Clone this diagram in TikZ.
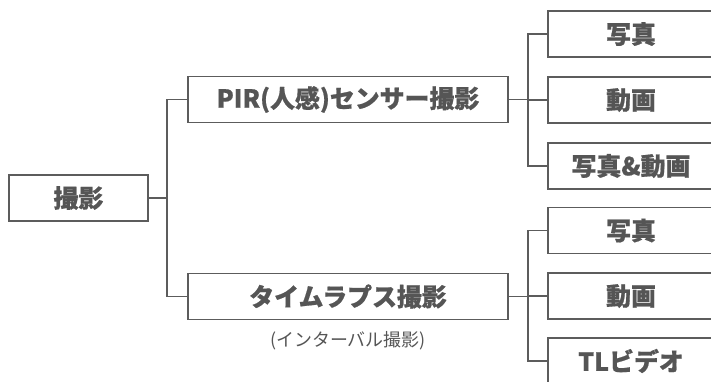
\documentclass[tikz,border=0pt]{standalone}
\usepackage{fontspec}
\setmainfont{Noto Sans CJK JP}[BoldFeatures={FakeBold=0.7}]
\definecolor{ln}{HTML}{5C5C5C}
\definecolor{tx}{HTML}{555555}
\tikzset{
  box/.style={draw=ln, line width=1.8bp, fill=white, text=tx, font=\fontsize{25}{29}\selectfont\bfseries, inner sep=0pt, minimum height=46bp},
  conn/.style={draw=ln, line width=1.8bp},
  sub/.style={text=tx, font=\fontsize{18}{21}\selectfont, inner sep=0pt}
}
\begin{document}
\begin{tikzpicture}[x=1bp,y=-1bp]
\useasboundingbox (0,0) rectangle (711,381);
\clip (0,0) rectangle (711,381);
\node[box, minimum width=139bp] (root) at (78.5,198) {撮影};
\node[box, minimum width=320bp] (pir) at (348,99.5) {PIR(人感)センサー撮影};
\node[box, minimum width=320bp] (tl) at (348,296.5) {タイムラプス撮影};
\node[sub] (tlsub) at (348,341) {(インターバル撮影)};
\node[box, minimum width=166bp] (p1) at (631,34) {写真};
\node[box, minimum width=166bp] (p2) at (631,100) {動画};
\node[box, minimum width=166bp] (p3) at (631,166) {写真\&動画};
\node[box, minimum width=166bp] (t1) at (631,230.5) {写真};
\node[box, minimum width=166bp] (t2) at (631,296) {動画};
\node[box, minimum width=166bp] (t3) at (631,361) {TLビデオ};
\coordinate (j0) at (167,0);
\coordinate (j1) at (528,0);
\draw[conn] (root.east) -- (root.east -| j0);
\draw[conn] (pir.west) -| (j0 |- root.east) |- (tl.west);
\draw[conn] (pir.east) -- (pir.east -| j1);
\draw[conn] (p1.west) -| (j1 |- p2.west) |- (p3.west);
\draw[conn] (j1 |- p2.west) -- (p2.west);
\draw[conn] (tl.east) -- (tl.east -| j1);
\draw[conn] (t1.west) -| (j1 |- t2.west) |- (t3.west);
\draw[conn] (j1 |- t2.west) -- (t2.west);
\end{tikzpicture}
\end{document}
